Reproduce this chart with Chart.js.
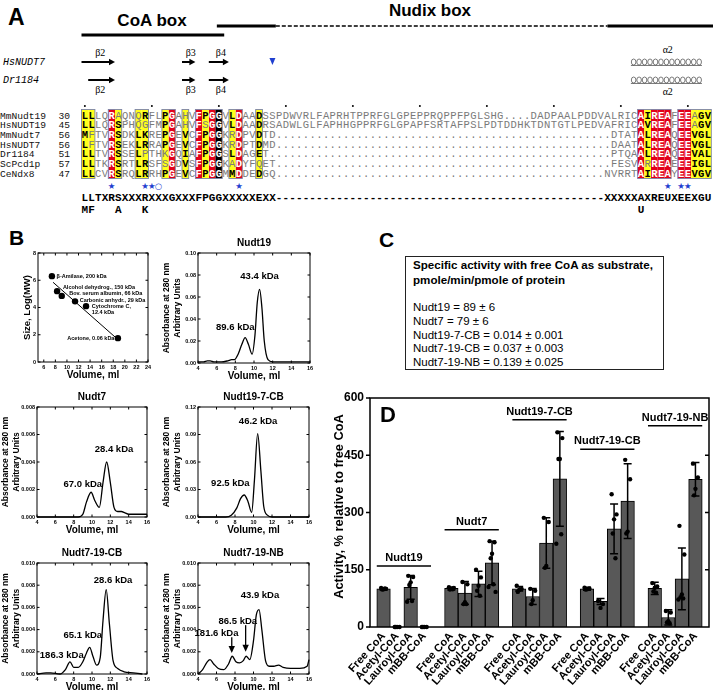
<!DOCTYPE html>
<html>
<head>
<meta charset="utf-8">
<title>Nudt19 / Nudt7 CoA box chimeras</title>
<script src="https://cdn.jsdelivr.net/npm/chart.js@4.4.1/dist/chart.umd.min.js"></script>
<style>
  body { margin: 0; background: #fff; }
  #page { position: relative; width: 713px; height: 690px; overflow: hidden;
          font-family: "Liberation Sans", Arial, sans-serif; color: #000; }
  #page canvas, #page svg, .letter, #boxC { position: absolute; }
  .letter { font-weight: bold; font-size: 21px; line-height: 1; }
  #boxC { left: 405px; top: 256px; width: 259px; height: 114px; box-sizing: border-box; white-space: nowrap;
          border: 1.5px solid #222; padding: 1px 0 0 7px; font-size: 11.5px; line-height: 13.7px; }
  #boxC b { font-size: 11.6px; }
</style>
</head>
<body>
<div id="page">
  <svg id="align" width="713" height="222" style="left:0;top:0"></svg>
  <div class="letter" style="left:9px;top:227px">B</div>
  <div class="letter" style="left:379px;top:229px">C</div>
  <div id="boxC"></div>
  <canvas id="std"></canvas>
  <canvas id="nudt19"></canvas>
  <canvas id="nudt7"></canvas>
  <canvas id="nudt19cb"></canvas>
  <canvas id="nudt7cb"></canvas>
  <canvas id="nudt7nb"></canvas>
  <canvas id="activity" width="383" height="310" style="left:330px;top:380px"></canvas>
  <div class="letter" style="left:380px;top:404px;font-size:22px">D</div>
</div>
<script>
const FONT = '"Liberation Sans", Arial, sans-serif';
const MONO = '"Liberation Mono", "Courier New", monospace';

// ---- A: alignment ----
const seqNames = ['MmNudt19', 'HsNUDT19', 'MmNudt7', 'HsNUDT7', 'Dr1184', 'ScPcd1p', 'CeNdx8'];
const seqFirst = [30, 45, 56, 56, 51, 57, 47];
const seqRows = [
  'LLLQRAQNQRFLPGAHVFPGGVLDAADSSPDWVRLFAPRHTPPRFGLGPEPPRQPPFPGLSHG....DADPAALPDDVALRICAIREAFEEAGV',
  'LLLQRSPHQGFMPGAHVFSGGVLDAADRSADWLGLFAPHHGPPRFGLGPAPFSRTAFPSLPDTDDHKTDNTGTLPEDVAFRICAVREAFEEAGV',
  'MFTVRSDKLKREPGEVCFPGGKRDPVDTD..................................................DTATALREAQEEVGL',
  'LFTVRSEKLRRAPGEVCFPGGKRDPTDMD..................................................DAATALREAQEEVGL',
  'LLTVRSSELPTHKGQIAFPGGSLDAGET...................................................PTQAALREAQEEVAL',
  'LLTKRSRTLRSFSGDVSFPGGKADYFQET..................................................FESVARREAEEEIGL',
  'LLCVRSRQLRRHPGEVCFPGGMMDDEDGQ.................................................NVRRTAIREAYEEVGV'
];
const redCols = [4, 13, 17, 19, 23, 83, 85, 86, 87, 89, 90];
const yellowCols = [0, 1, 5, 8, 9, 12, 15, 18, 22, 26, 84, 91, 92, 93];
const blackCols = [20];
const boxedCols = [[0, 1], [4, 5], [8, 9], [12, 13], [15, 15], [17, 20], [22, 23], [26, 26], [83, 87], [89, 93]];
const starCols = [4, 9, 10, 23, 87, 89, 90];
const circleCols = [11];
const consensus = 'LLTXRSXXXRXXXGXXXFPGGXXXXXEXX-------------------------------------------------XXXXXAXREUXEEXGU';
const consensusAlt = [[0, 'M'], [1, 'F'], [5, 'A'], [9, 'K'], [83, 'U']];
const strandsHs = [[0, 5, 'β2'], [15, 17, 'β3'], [19, 22, 'β4']];
const strandsDr = [[1, 5, 'β2'], [15, 17, 'β3'], [19, 22, 'β4']];

// ---- B: gel filtration ----
const volTicks = [4, 6, 8, 10, 12, 14, 16];
const stdVolTicks = [6, 8, 10, 12, 14, 16, 18, 20, 22, 24];
const stdLogTicks = [0, 2, 4, 6, 8];
const stdVol = [7.4, 8.3, 9.1, 11.4, 13.3, 18.8];
const stdLogMw = [6.3, 5.2, 4.85, 4.45, 4.1, 1.75];
const fitVol = [7.6, 18.8];
const fitLogMw = [5.85, 1.65];

const nudt19Vol = [4, 4.6, 5.0, 5.3, 5.7, 6.5, 7.2, 7.6, 7.9, 8.3, 8.7, 9.05, 9.4, 9.8, 10.1, 10.35, 10.6, 10.85, 11.1, 11.5, 12, 13, 14, 15, 16];
const nudt19Abs = [0.001, 0.001, 0.002, 0.002, 0.001, 0.001, 0.002, 0.003, 0.003, 0.008, 0.017, 0.023, 0.017, 0.008, 0.025, 0.055, 0.067, 0.05, 0.02, 0.003, 0.001, 0.001, 0.001, 0.001, 0.001];
const nudt19Ticks = [0, 0.02, 0.04, 0.06, 0.08, 0.10];

const nudt7Vol = [4, 8.5, 9.0, 9.4, 9.9, 10.3, 10.8, 11.2, 11.6, 12.0, 12.4, 12.8, 13.2, 13.6, 14, 16];
const nudt7Abs = [0, 0, 0.0002, 0.0011, 0.0018, 0.0012, 0.0007, 0.0025, 0.0040, 0.0025, 0.0007, 0.0004, 0.0004, 0.0003, 0.0002, 0.0002];
const nudt7Ticks = [0, 0.002, 0.004, 0.006, 0.008];

const nudt19cbVol = [4, 7.0, 7.6, 8.2, 8.6, 9.0, 9.4, 9.8, 10.1, 10.45, 10.8, 11.1, 11.5, 12, 16];
const nudt19cbAbs = [0, 0, 0.002, 0.01, 0.02, 0.024, 0.017, 0.005, 0.04, 0.091, 0.05, 0.012, 0.002, 0, 0];
const nudt19cbTicks = [0, 0.03, 0.06, 0.09, 0.12];

const nudt7cbVol = [4, 5, 5.5, 6.5, 7.1, 7.6, 8.0, 8.5, 9.0, 9.4, 9.75, 10.1, 10.5, 10.9, 11.2, 11.55, 11.9, 12.3, 12.8, 13.5, 14.5, 15.5];
const nudt7cbAbs = [0, 0.0001, 0.0001, 0, 0.0004, 0.0011, 0.0006, 0.0006, 0.0011, 0.0019, 0.0024, 0.0016, 0.0008, 0.0015, 0.0048, 0.0076, 0.0045, 0.0012, 0.0005, 0.0002, 0.0001, 0];
const nudt7nbVol = [4, 4.5, 5.0, 5.3, 5.7, 6.2, 6.8, 7.3, 7.7, 8.1, 8.5, 8.9, 9.2, 9.6, 10.0, 10.3, 10.6, 10.9, 11.3, 11.7, 12.2, 12.7, 13.2, 14, 15, 15.8, 16];
const nudt7nbAbs = [0, 0.0004, 0.0011, 0.0013, 0.0009, 0.0005, 0.0004, 0.0009, 0.0016, 0.0011, 0.0010, 0.0012, 0.0016, 0.0013, 0.0030, 0.0053, 0.0058, 0.0040, 0.0012, 0.0007, 0.0007, 0.0008, 0.0006, 0.0005, 0.0005, 0.0007, 0.0013];
const smallTicks = [0, 0.002, 0.004, 0.006, 0.008, 0.010];

// ---- C: specific activity ----
const specNames = ['Nudt19', 'Nudt7', 'Nudt19-7-CB', 'Nudt7-19-CB', 'Nudt7-19-NB'];
const specValues = ['89 ± 6', '79 ± 6', '0.014 ± 0.001', '0.037 ± 0.003', '0.139 ± 0.025'];

// ---- D: relative activity ----
const substrates = ['Free CoA', 'Acetyl-CoA', 'Lauroyl-CoA', 'mBB-CoA'];
const enzymes = ['Nudt19', 'Nudt7', 'Nudt19-7-CB', 'Nudt7-19-CB', 'Nudt7-19-NB'];
const enzymeLabelY = [160, 255, 543, 466, 527];
const activityTicks = [0, 150, 300, 450, 600];
const activityMean = [
  [100, 0, 104, 0],
  [101, 89, 113, 168],
  [100, 80, 220, 388],
  [100, 67, 257, 330],
  [101, 25, 126, 387]
];
const activitySd = [
  [3, 0, 31, 0],
  [4, 30, 33, 57],
  [6, 21, 66, 124],
  [4, 8, 65, 98],
  [16, 20, 81, 44]
];
const activityPoints = [
  [[102, 100, 99, 98, 101], [0, 0, 0, 0], [134, 131, 117, 110, 68, 66], [0, 0, 0, 0]],
  [[104, 102, 100, 98, 99], [118, 112, 65, 60, 60], [150, 130, 108, 95, 82], [225, 222, 192, 180, 112, 105, 92]],
  [[108, 100, 97, 92], [100, 95, 70, 60], [286, 275, 160, 155], [510, 495, 440, 440, 243, 218]],
  [[103, 101, 99, 98, 100], [68, 60, 50], [348, 295, 282, 245, 180], [438, 387, 250, 245]],
  [[115, 106, 103, 93, 90], [42, 38, 15, 12, 10], [265, 190, 85, 78, 75, 72], [428, 392, 362, 345]]
];

// ================= panel A (svg) =================
const NS = 'http://www.w3.org/2000/svg';
const svg = document.getElementById('align');
function el(tag, attrs, text) {
  const e = document.createElementNS(NS, tag);
  for (const k in attrs) e.setAttribute(k, attrs[k]);
  if (text != null) e.textContent = text;
  svg.appendChild(e);
  return e;
}
const X0 = 81.5, CW = 6.7, ROW0 = 115, ROWH = 9.67;
const colX = c => X0 + c * CW;
const colC = c => X0 + (c + 0.5) * CW;

el('text', { x: 8, y: 25, 'font-family': FONT, 'font-weight': 'bold', 'font-size': 23 }, 'A');
el('text', { x: 152, y: 26, 'text-anchor': 'middle', 'font-family': FONT, 'font-weight': 'bold', 'font-size': 17 }, 'CoA box');
el('text', { x: 430, y: 16, 'text-anchor': 'middle', 'font-family': FONT, 'font-weight': 'bold', 'font-size': 17 }, 'Nudix box');
el('line', { x1: colX(0), x2: colX(21.3), y1: 35, y2: 35, stroke: '#000', 'stroke-width': 3 });
el('line', { x1: colX(20.2), x2: colX(29), y1: 26, y2: 26, stroke: '#000', 'stroke-width': 3 });
el('line', { x1: colX(29), x2: colX(78.5), y1: 26, y2: 26, stroke: '#000', 'stroke-width': 1.3, 'stroke-dasharray': '4 2' });
el('line', { x1: colX(78.5), x2: 713, y1: 26, y2: 26, stroke: '#000', 'stroke-width': 3 });

el('text', { x: 3, y: 65, 'font-family': MONO, 'font-style': 'italic', 'font-size': 10 }, 'HsNUDT7');
el('text', { x: 3, y: 83, 'font-family': MONO, 'font-style': 'italic', 'font-size': 10 }, 'Dr1184');

function strand(c0, c1, y) {
  const x0 = colX(c0), x1 = colX(c1);
  el('line', { x1: x0, x2: x1 - 5, y1: y, y2: y, stroke: '#000', 'stroke-width': 2 });
  el('path', { d: `M${x1 - 6},${y - 3.2} L${x1},${y} L${x1 - 6},${y + 3.2} Z`, fill: '#000' });
}
strandsHs.forEach(s => {
  strand(s[0], s[1], 62);
  el('text', { x: (colX(s[0]) + colX(s[1])) / 2 + 2, y: 56, 'text-anchor': 'middle', 'font-family': '"Liberation Serif", serif', 'font-size': 10 }, s[2]);
});
strandsDr.forEach(s => {
  strand(s[0], s[1], 80);
  el('text', { x: (colX(s[0] - (s[0] === 1 ? 1 : 0)) + colX(s[1])) / 2 + 2, y: 93, 'text-anchor': 'middle', 'font-family': '"Liberation Serif", serif', 'font-size': 10 }, s[2]);
});
el('path', { d: `M${colC(28) - 3},58 L${colC(28) + 3},58 L${colC(28)},65 Z`, fill: '#1f3fd0' });

function helix(y) {
  const x0 = colX(82), n = 13, step = (colX(92.6) - x0) / n;
  for (let i = 0; i < n; i++) {
    el('ellipse', { cx: x0 + step * (i + 0.5), cy: y, rx: step * 0.42, ry: 3, fill: 'none', stroke: '#444', 'stroke-width': 0.7 });
  }
  el('line', { x1: x0, x2: x0 + step * n, y1: y + 3.5, y2: y + 3.5, stroke: '#444', 'stroke-width': 0.7 });
}
helix(62);
helix(80);
el('text', { x: colC(87), y: 53, 'text-anchor': 'middle', 'font-family': '"Liberation Serif", serif', 'font-size': 10 }, 'α2');
el('text', { x: colC(87), y: 95, 'text-anchor': 'middle', 'font-family': '"Liberation Serif", serif', 'font-size': 10 }, 'α2');

// column shading and frames
const colTop = ROW0 - 5.5, colH = ROWH * (seqRows.length - 1) + 11;
redCols.forEach(c => el('rect', { x: colX(c), y: colTop, width: CW, height: colH, fill: '#e2001a' }));
yellowCols.forEach(c => el('rect', { x: colX(c), y: colTop, width: CW, height: colH, fill: '#ffff1a' }));
blackCols.forEach(c => el('rect', { x: colX(c), y: colTop, width: CW, height: colH, fill: '#000' }));
boxedCols.forEach(b => el('rect', { x: colX(b[0]), y: colTop, width: (b[1] - b[0] + 1) * CW, height: colH, fill: 'none', stroke: '#7c84a8', 'stroke-width': 0.9 }));

const simClasses = ['LIVM', 'FYW', 'ST', 'DE', 'NQ', 'KR', 'AG', 'P', 'H', 'C'];
const classOf = ch => simClasses.find(s => s.includes(ch)) || ch;
function mainClass(c) {
  const n = {};
  seqRows.forEach(r => { const k = classOf(r[c]); n[k] = (n[k] || 0) + 1; });
  return Object.keys(n).sort((a, b) => n[b] - n[a])[0];
}
for (let c = 0; c < 94; c += 10) el('circle', { cx: colC(c), cy: 106, r: 1, fill: '#000' });

seqRows.forEach((row, r) => {
  const yc = ROW0 + r * ROWH;
  el('text', { x: 0, y: yc + 3.5, 'font-family': MONO, 'font-size': 9.6, fill: '#111' }, seqNames[r]);
  el('text', { x: 70, y: yc + 3.5, 'text-anchor': 'end', 'font-family': MONO, 'font-size': 9.6, fill: '#111' }, String(seqFirst[r]));
  for (let c = 0; c < row.length; c++) {
    const ch = row[c];
    let fill = '#7a7a7a', weight = 'normal';
    if (redCols.includes(c) || blackCols.includes(c)) { fill = '#fff'; weight = 'bold'; }
    else if (yellowCols.includes(c) && ch !== '.') {
      if (classOf(ch) === mainClass(c)) { fill = '#000'; weight = 'bold'; }
    }
    el('text', { x: colC(c), y: yc + 3.5, 'text-anchor': 'middle', 'font-family': MONO, 'font-size': 10.5, 'font-weight': weight, fill }, ch);
  }
});
starCols.forEach(c => el('text', { x: colC(c), y: 189, 'text-anchor': 'middle', 'font-family': '"DejaVu Sans", sans-serif', 'font-size': 8.5, fill: '#1f3fd0' }, '★'));
circleCols.forEach(c => el('text', { x: colC(c), y: 189, 'text-anchor': 'middle', 'font-family': '"DejaVu Sans", sans-serif', 'font-size': 8.5, fill: '#1f3fd0' }, '○'));
for (let c = 0; c < consensus.length; c++) {
  el('text', { x: colC(c), y: 201, 'text-anchor': 'middle', 'font-family': MONO, 'font-size': 11, 'font-weight': 'bold' }, consensus[c]);
}
consensusAlt.forEach(p => el('text', { x: colC(p[0]), y: 213, 'text-anchor': 'middle', 'font-family': MONO, 'font-size': 11, 'font-weight': 'bold' }, p[1]));

// ================= panel C =================
document.getElementById('boxC').innerHTML =
  '<b>Specific activity with free CoA as substrate,<br>pmole/min/pmole of protein</b><br><br>' +
  specNames.map((n, i) => `${n} = ${specValues[i]}`).join('<br>');

// ================= charts =================
Chart.defaults.font.family = FONT;
Chart.defaults.color = '#000';
Chart.defaults.animation = false;
Chart.defaults.plugins.legend.display = false;
Chart.defaults.plugins.tooltip.enabled = false;

const framePlugin = {
  id: 'frame',
  afterDatasetsDraw(chart, args, o) {
    const { ctx, chartArea: a, scales } = chart;
    ctx.save();
    ctx.strokeStyle = '#000';
    ctx.lineWidth = o.lineWidth;
    ctx.strokeRect(a.left, a.top, a.right - a.left, a.bottom - a.top);
    ctx.beginPath();
    if (o.inner) {
      scales.x.ticks.forEach(t => {
        const p = scales.x.getPixelForValue(t.value);
        ctx.moveTo(p, a.bottom); ctx.lineTo(p, a.bottom - o.inner);
        ctx.moveTo(p, a.top); ctx.lineTo(p, a.top + o.inner);
      });
      scales.y.ticks.forEach(t => {
        const p = scales.y.getPixelForValue(t.value);
        ctx.moveTo(a.left, p); ctx.lineTo(a.left + o.inner, p);
        ctx.moveTo(a.right, p); ctx.lineTo(a.right - o.inner, p);
      });
    }
    if (o.outer) {
      scales.y.ticks.forEach((t, i, all) => {
        const p = scales.y.getPixelForValue(t.value);
        ctx.moveTo(a.left, p); ctx.lineTo(a.left - o.outer, p);
        if (i > 0 && i < all.length - 1) { ctx.moveTo(a.right, p); ctx.lineTo(a.right - o.outer, p); }
      });
    }
    ctx.stroke();
    ctx.restore();
  }
};

const notesPlugin = {
  id: 'notes',
  afterDraw(chart, args, o) {
    const { ctx, chartArea: a } = chart;
    const x = chart.scales.x, y = chart.scales.y;
    ctx.save();
    ctx.fillStyle = '#000';
    ctx.strokeStyle = '#000';
    ctx.textBaseline = 'middle';
    ctx.textAlign = 'center';
    if (o.title) {
      ctx.font = `bold 10px ${FONT}`;
      ctx.fillText(o.title, (a.left + a.right) / 2, a.top - 10);
    }
    if (o.xTitle) {
      ctx.font = `bold 10px ${FONT}`;
      ctx.fillText(o.xTitle, (a.left + a.right) / 2, a.bottom + 13);
    }
    (o.yTitle || []).forEach((line, i) => {
      ctx.save();
      ctx.translate(a.left - o.yTitleGap[i], (a.top + a.bottom) / 2);
      ctx.rotate(-Math.PI / 2);
      ctx.font = `bold ${o.yTitleSize}px ${FONT}`;
      ctx.fillText(line, 0, 0);
      ctx.restore();
    });
    (o.labels || []).forEach(l => {
      ctx.font = `bold ${o.labelSize}px ${FONT}`;
      ctx.textAlign = l.align || 'center';
      ctx.fillText(l.text, x.getPixelForValue(l.at[0]), y.getPixelForValue(l.at[1]));
    });
    (o.arrows || []).forEach(ar => {
      const px = x.getPixelForValue(ar.x), y0 = y.getPixelForValue(ar.from), y1 = y.getPixelForValue(ar.to);
      ctx.lineWidth = 1.3;
      ctx.beginPath(); ctx.moveTo(px, y0); ctx.lineTo(px, y1 - 5); ctx.stroke();
      ctx.beginPath(); ctx.moveTo(px - 3.2, y1 - 7); ctx.lineTo(px + 3.2, y1 - 7); ctx.lineTo(px, y1); ctx.closePath(); ctx.fill();
    });
    ctx.restore();
  }
};

// canvas sized so that the plot box lands on [l, t, r, b]
const AXW = 38, PADT = 24, PADR = 12, AXH = 22;
function place(id, l, t, r, b) {
  const c = document.getElementById(id);
  c.width = r - l + AXW + PADR;
  c.height = b - t + PADT + AXH;
  c.style.left = (l - AXW) + 'px';
  c.style.top = (t - PADT) + 'px';
  return c;
}
function smallScales(xMin, xMax, xTicks, yMax, yTicks, yDigits) {
  return {
    x: {
      type: 'linear', min: xMin, max: xMax,
      afterBuildTicks: s => { s.ticks = xTicks.map(v => ({ value: v })); },
      ticks: { font: { size: 5.5, weight: 'bold' }, padding: 2, autoSkip: false, maxRotation: 0, callback: v => String(v) },
      grid: { display: false, drawTicks: false }, border: { display: false },
      afterFit: s => { s.height = AXH; }
    },
    y: {
      min: 0, max: yMax,
      afterBuildTicks: s => { s.ticks = yTicks.map(v => ({ value: v })); },
      ticks: { font: { size: 5.5, weight: 'bold' }, padding: 2, callback: v => v.toFixed(yDigits) },
      grid: { display: false, drawTicks: false }, border: { display: false },
      afterFit: s => { s.width = AXW; }
    }
  };
}
function chromatogram(id, box, vol, abs, yMax, yTicks, yDigits, notes) {
  const canvas = place(id, box[0], box[1], box[2], box[3]);
  return new Chart(canvas, {
    type: 'scatter',
    data: {
      datasets: [{
        data: vol.map((v, i) => ({ x: v, y: abs[i] })),
        showLine: true, borderColor: '#000', borderWidth: 1.3, pointRadius: 0,
        cubicInterpolationMode: 'monotone', clip: false
      }]
    },
    options: {
      responsive: false, devicePixelRatio: 1,
      layout: { padding: { top: PADT, right: PADR, left: 0, bottom: 0 } },
      scales: smallScales(4, 16, volTicks, yMax, yTicks, yDigits),
      plugins: {
        frame: { lineWidth: 1, inner: 2.5 },
        notes: Object.assign({
          xTitle: 'Volume, ml', yTitle: ['Absorbance at 280 nm', 'Arbitrary Units'],
          yTitleGap: [31, 20], yTitleSize: 8.5, labelSize: 9.5
        }, notes)
      }
    },
    plugins: [framePlugin, notesPlugin]
  });
}

// standard curve
new Chart(place('std', 38, 253, 148, 362), {
  type: 'scatter',
  data: {
    datasets: [
      { data: stdVol.map((v, i) => ({ x: v, y: stdLogMw[i] })), pointRadius: 3.2, pointBackgroundColor: '#000', pointBorderWidth: 0 },
      { data: fitVol.map((v, i) => ({ x: v, y: fitLogMw[i] })), showLine: true, pointRadius: 0, borderColor: '#000', borderWidth: 1 }
    ]
  },
  options: {
    responsive: false, devicePixelRatio: 1,
    layout: { padding: { top: PADT, right: PADR, left: 0, bottom: 0 } },
    scales: smallScales(5, 24, stdVolTicks, 8, stdLogTicks, 0),
    plugins: {
      frame: { lineWidth: 1, inner: 2.5 },
      notes: {
        xTitle: 'Volume, ml', yTitle: ['Size, Log(MW)'], yTitleGap: [11], yTitleSize: 9.5, labelSize: 5.5,
        labels: [
          { text: 'β-Amilase, 200 kDa', at: [8.2, 6.3], align: 'left' },
          { text: 'Alcohol dehydrog., 150 kDa', at: [9.3, 5.45], align: 'left' },
          { text: 'Bov. serum albumin, 66 kDa', at: [10.4, 5.0], align: 'left' },
          { text: 'Carbonic anhydr., 29 kDa', at: [12.2, 4.5], align: 'left' },
          { text: 'Cytochrome C,', at: [14.3, 4.05], align: 'left' },
          { text: '12.4 kDa', at: [14.3, 3.65], align: 'left' },
          { text: 'Acetone, 0.06 kDa', at: [18.2, 1.7], align: 'right' }
        ]
      }
    }
  },
  plugins: [framePlugin, notesPlugin]
});

chromatogram('nudt19', [198, 253, 310, 363], nudt19Vol, nudt19Abs, 0.10, nudt19Ticks, 2, {
  title: 'Nudt19',
  labels: [{ text: '43.4 kDa', at: [10.6, 0.079] }, { text: '89.6 kDa', at: [8.0, 0.032] }]
});
chromatogram('nudt7', [37, 407, 147, 517], nudt7Vol, nudt7Abs, 0.008, nudt7Ticks, 3, {
  title: 'Nudt7',
  labels: [{ text: '28.4 kDa', at: [12.4, 0.0049] }, { text: '67.0 kDa', at: [9.0, 0.0024] }]
});
chromatogram('nudt19cb', [198, 407, 309, 517], nudt19cbVol, nudt19cbAbs, 0.12, nudt19cbTicks, 2, {
  title: 'Nudt19-7-CB',
  labels: [{ text: '46.2 kDa', at: [10.5, 0.104] }, { text: '92.5 kDa', at: [7.5, 0.037] }]
});
chromatogram('nudt7cb', [37, 563, 147, 674], nudt7cbVol, nudt7cbAbs, 0.010, smallTicks, 3, {
  title: 'Nudt7-19-CB',
  labels: [{ text: '28.6 kDa', at: [12.3, 0.0084] }, { text: '65.1 kDa', at: [9.0, 0.0035] }, { text: '186.3 kDa', at: [6.7, 0.0017] }]
});
chromatogram('nudt7nb', [198, 563, 309, 674], nudt7nbVol, nudt7nbAbs, 0.010, smallTicks, 3, {
  title: 'Nudt7-19-NB',
  labels: [{ text: '43.9 kDa', at: [10.7, 0.0071] }, { text: '86.5 kDa', at: [8.3, 0.0047] }, { text: '181.6 kDa', at: [6.0, 0.0037] }],
  arrows: [{ x: 7.65, from: 0.0033, to: 0.0019 }, { x: 9.15, from: 0.0044, to: 0.0020 }]
});

// ================= panel D =================
const barX = [], barY = [], barSd = [], barLabels = [], dots = [];
const jitter = [-0.18, 0.18, 0, -0.1, 0.1, -0.26, 0.26];
enzymes.forEach((enz, g) => substrates.forEach((sub, k) => {
  const x = g * 5 + k;
  barX.push(x);
  barY.push(activityMean[g][k]);
  barSd.push(activitySd[g][k]);
  barLabels.push(sub);
  activityPoints[g][k].forEach((v, j) => dots.push({ x: x + jitter[j % jitter.length], y: v }));
}));

const errorBarPlugin = {
  id: 'errorBars',
  afterDatasetDraw(chart, args) {
    if (args.meta.type !== 'bar') return;
    const { ctx, scales: { x, y } } = chart;
    ctx.save();
    ctx.strokeStyle = '#000';
    ctx.lineWidth = 1.5;
    ctx.beginPath();
    barX.forEach((bx, i) => {
      if (!barSd[i]) return;
      const px = x.getPixelForValue(bx);
      const hi = y.getPixelForValue(barY[i] + barSd[i]);
      const lo = y.getPixelForValue(barY[i] - barSd[i]);
      ctx.moveTo(px, hi); ctx.lineTo(px, lo);
      ctx.moveTo(px - 4, hi); ctx.lineTo(px + 4, hi);
      ctx.moveTo(px - 4, lo); ctx.lineTo(px + 4, lo);
    });
    ctx.stroke();
    ctx.restore();
  }
};
const groupPlugin = {
  id: 'groups',
  afterDraw(chart) {
    const { ctx, scales: { x, y } } = chart;
    ctx.save();
    ctx.strokeStyle = '#000';
    ctx.fillStyle = '#000';
    ctx.lineWidth = 1.5;
    ctx.font = `bold 11px ${FONT}`;
    ctx.textAlign = 'center';
    ctx.textBaseline = 'middle';
    enzymes.forEach((enz, g) => {
      const x0 = x.getPixelForValue(g * 5 - 0.5), x1 = x.getPixelForValue(g * 5 + 3.5);
      const py = y.getPixelForValue(enzymeLabelY[g]);
      ctx.beginPath(); ctx.moveTo(x0, py); ctx.lineTo(x1, py); ctx.stroke();
      ctx.fillText(enz, (x0 + x1) / 2, py - 8);
    });
    const a = chart.chartArea;
    ctx.save();
    ctx.translate(a.left - 31, (a.top + a.bottom) / 2 - 6);
    ctx.rotate(-Math.PI / 2);
    ctx.font = `bold 12.8px ${FONT}`;
    ctx.fillText('Activity, % relative to free CoA', 0, 0);
    ctx.restore();
    ctx.restore();
  }
};

new Chart(document.getElementById('activity'), {
  type: 'bar',
  data: {
    datasets: [
      { type: 'scatter', data: dots, pointRadius: 2.2, pointBackgroundColor: '#000', pointBorderWidth: 0, clip: false, order: 0 },
      {
        type: 'bar', data: barX.map((bx, i) => ({ x: bx, y: barY[i] })),
        backgroundColor: '#585858', borderColor: '#000', borderWidth: 1,
        barPercentage: 1, categoryPercentage: 1, order: 1
      }
    ]
  },
  options: {
    responsive: false, devicePixelRatio: 1,
    layout: { padding: { top: 18, right: 1, left: 0, bottom: 0 } },
    scales: {
      x: {
        type: 'linear', min: -1, max: 24, offset: false,
        afterBuildTicks: s => { s.ticks = barX.map(v => ({ value: v })); },
        ticks: { autoSkip: false, minRotation: 48, maxRotation: 48, padding: 3,
                 font: { size: 11, weight: 'bold' }, callback: (v, i) => barLabels[i] },
        grid: { display: false, drawTicks: false }, border: { display: false },
        afterFit: s => { s.height = 63; }
      },
      y: {
        min: 0, max: 600,
        afterBuildTicks: s => { s.ticks = activityTicks.map(v => ({ value: v })); },
        ticks: { font: { size: 12, weight: 'bold' }, padding: 6 },
        grid: { display: false, drawTicks: false }, border: { display: false },
        afterFit: s => { s.width = 40; }
      }
    },
    plugins: { frame: { lineWidth: 1.5, outer: 4 } }
  },
  plugins: [framePlugin, errorBarPlugin, groupPlugin]
});
</script>
</body>
</html>
